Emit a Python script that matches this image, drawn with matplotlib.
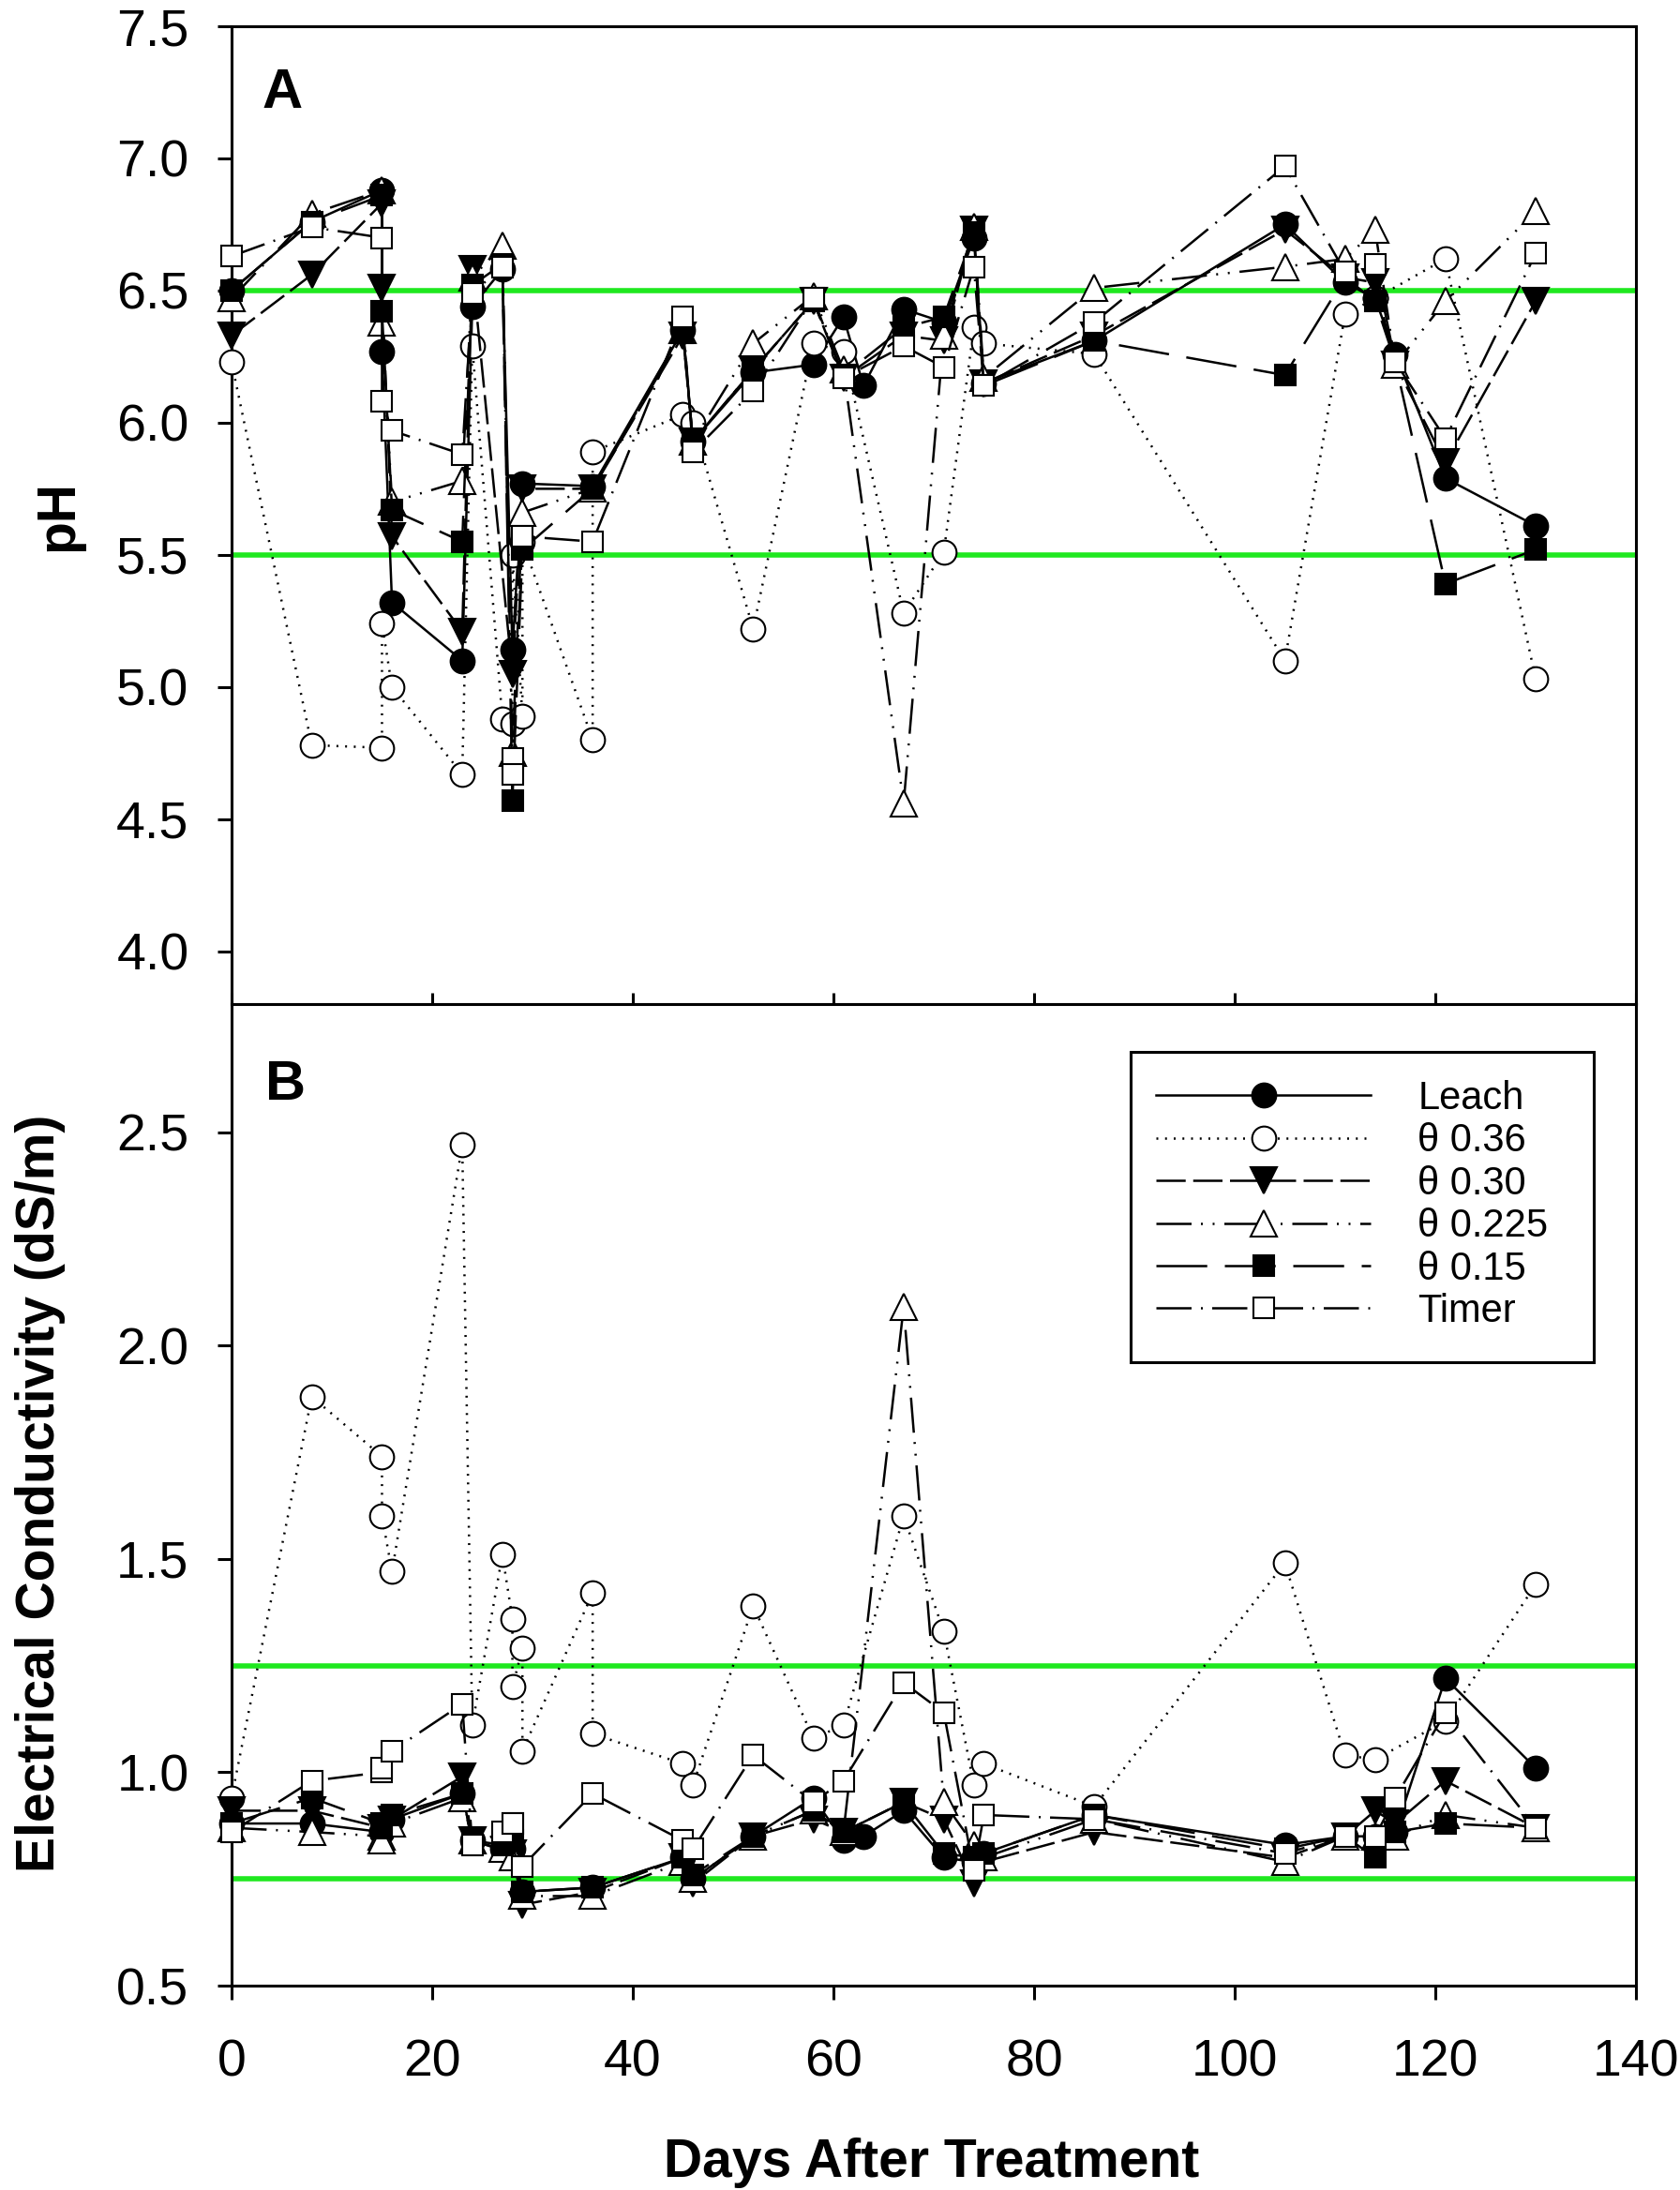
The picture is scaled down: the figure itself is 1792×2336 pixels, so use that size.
import matplotlib
matplotlib.use('Agg')
import matplotlib.pyplot as plt
import matplotlib.ticker as ticker
from matplotlib.patches import Rectangle

# Sampling days per treatment (some days were sampled twice)
leach_days = [0, 8, 15, 15, 16, 23, 24, 27, 28, 29, 36, 45, 46, 52, 58, 61, 63, 67, 71, 74, 75, 86, 105, 111, 114, 116, 121, 130]
leach_ph = [6.50, 6.76, 6.88, 6.27, 5.32, 5.10, 6.44, 6.58, 5.14, 5.77, 5.76, 6.35, 5.93, 6.19, 6.22, 6.40, 6.14, 6.43, 6.38, 6.70, 6.15, 6.31, 6.75, 6.53, 6.47, 6.26, 5.79, 5.61]
leach_ec = [0.88, 0.88, 0.86, 0.86, 0.89, 0.95, 0.84, 0.82, 0.82, 0.72, 0.73, 0.80, 0.75, 0.85, 0.94, 0.84, 0.85, 0.91, 0.80, 0.79, 0.81, 0.90, 0.83, 0.85, 0.85, 0.86, 1.22, 1.01]

t36_days = [0, 8, 15, 15, 16, 23, 24, 27, 28, 28, 29, 29, 36, 36, 45, 46, 52, 58, 61, 67, 71, 74, 75, 86, 105, 111, 114, 121, 130]
t36_ph = [6.23, 4.78, 4.77, 5.24, 5.00, 4.67, 6.29, 4.88, 4.86, 5.50, 4.89, 5.55, 4.80, 5.89, 6.03, 6.00, 5.22, 6.30, 6.27, 5.28, 5.51, 6.36, 6.30, 6.26, 5.10, 6.41, 6.47, 6.62, 5.03]
t36_ec = [0.94, 1.88, 1.74, 1.60, 1.47, 2.47, 1.11, 1.51, 1.36, 1.20, 1.29, 1.05, 1.42, 1.09, 1.02, 0.97, 1.39, 1.08, 1.11, 1.60, 1.33, 0.97, 1.02, 0.92, 1.49, 1.04, 1.03, 1.12, 1.44]

t30_days = [0, 8, 15, 15, 16, 23, 24, 28, 29, 36, 45, 46, 52, 58, 61, 67, 71, 74, 75, 86, 105, 111, 114, 116, 121, 130]
t30_ph = [6.33, 6.56, 6.83, 6.51, 5.57, 5.21, 6.58, 5.05, 5.75, 5.75, 6.33, 5.93, 6.20, 6.46, 6.17, 6.33, 6.31, 6.73, 6.15, 6.33, 6.73, 6.55, 6.53, 6.22, 5.85, 6.46]
t30_ec = [0.91, 0.91, 0.87, 0.86, 0.89, 0.99, 0.84, 0.81, 0.69, 0.72, 0.80, 0.74, 0.85, 0.89, 0.86, 0.93, 0.89, 0.74, 0.79, 0.86, 0.80, 0.85, 0.91, 0.88, 0.98, 0.87]

t225_days = [0, 8, 15, 15, 16, 23, 24, 27, 28, 29, 36, 45, 46, 52, 58, 61, 67, 71, 74, 75, 86, 105, 111, 114, 116, 121, 130]
t225_ph = [6.47, 6.79, 6.88, 6.38, 5.70, 5.78, 6.55, 6.67, 4.75, 5.66, 5.75, 6.35, 5.93, 6.30, 6.48, 6.20, 4.56, 6.33, 6.74, 6.17, 6.51, 6.59, 6.62, 6.73, 6.22, 6.46, 6.80]
t225_ec = [0.87, 0.86, 0.85, 0.84, 0.88, 0.94, 0.84, 0.82, 0.80, 0.71, 0.71, 0.79, 0.75, 0.85, 0.91, 0.86, 2.09, 0.93, 0.83, 0.80, 0.89, 0.79, 0.85, 0.85, 0.85, 0.90, 0.87]

t15_days = [0, 8, 15, 15, 16, 23, 24, 27, 28, 29, 36, 45, 46, 52, 58, 61, 67, 71, 74, 75, 86, 105, 111, 114, 116, 121, 130]
t15_ph = [6.50, 6.76, 6.86, 6.42, 5.67, 5.55, 6.52, 6.60, 4.57, 5.52, 5.75, 6.34, 5.93, 6.20, 6.46, 6.18, 6.36, 6.40, 6.72, 6.14, 6.31, 6.18, 6.55, 6.46, 6.23, 5.39, 5.52]
t15_ec = [0.88, 0.94, 0.88, 0.87, 0.90, 0.95, 0.84, 0.83, 0.84, 0.72, 0.73, 0.80, 0.76, 0.85, 0.91, 0.86, 0.93, 0.81, 0.80, 0.81, 0.90, 0.82, 0.85, 0.80, 0.86, 0.88, 0.87]

timer_days = [0, 8, 15, 15, 16, 23, 24, 27, 28, 28, 29, 36, 45, 46, 52, 58, 61, 67, 71, 74, 75, 86, 105, 111, 114, 116, 121, 130]
timer_ph = [6.63, 6.74, 6.70, 6.08, 5.97, 5.88, 6.49, 6.59, 4.73, 4.67, 5.57, 5.55, 6.40, 5.89, 6.12, 6.47, 6.17, 6.29, 6.21, 6.59, 6.14, 6.38, 6.97, 6.57, 6.60, 6.23, 5.94, 6.64]
timer_ec = [0.86, 0.98, 1.00, 1.01, 1.05, 1.16, 0.83, 0.86, 0.88, 0.88, 0.78, 0.95, 0.84, 0.82, 1.04, 0.93, 0.98, 1.21, 1.14, 0.77, 0.90, 0.89, 0.81, 0.85, 0.85, 0.94, 1.14, 0.87]

labels = ['Leach', 'θ 0.36', 'θ 0.30', 'θ 0.225', 'θ 0.15', 'Timer']

ph_bounds = [5.5, 6.5]
ec_bounds = [0.75, 1.25]
ph_ticks = [4.0, 4.5, 5.0, 5.5, 6.0, 6.5, 7.0, 7.5]
ec_ticks = [0.5, 1.0, 1.5, 2.0, 2.5]
day_ticks = [0, 20, 40, 60, 80, 100, 120, 140]

GREEN = '#1fe81f'
LW = 1.8
SPINE = 2.2

# marker, face colour, marker size, line style (dash units scale with LW)
styles = [
    ('o', 'black', 18.5, '-'),
    ('o', 'white', 18.5, (0, (0.8, 2.9))),
    ('v', 'black', 20, (0, (12.5, 3.2))),
    ('^', 'white', 20, (0, (15, 4, 0.8, 4.2, 0.8, 4.2))),
    ('s', 'black', 16, (0, (21.7, 7.5))),
    ('s', 'white', 16, (0, (15, 4, 0.8, 4))),
]


def style_axis(axis):
    for spine in axis.spines.values():
        spine.set_linewidth(SPINE)
    axis.tick_params(axis='y', direction='out', length=10.8, width=SPINE, labelsize=40, pad=22)
    axis.yaxis.set_major_formatter(ticker.FormatStrFormatter('%.1f'))
    axis.set_xlim(0, 140)
    axis.set_xticks(day_ticks)


def draw_series(axis, days_list, values_list):
    lines = []
    for days, values, style, label in zip(days_list, values_list, styles, labels):
        marker, face, size, ls = style
        line, = axis.plot(days, values, color='black', linewidth=LW, linestyle=ls,
                          marker=marker, markersize=size, markerfacecolor=face,
                          markeredgecolor='black', markeredgewidth=1.5,
                          label=label, clip_on=False, zorder=3)
        lines.append(line)
    return lines


def run():
    plt.rcParams['font.family'] = ['Liberation Sans', 'DejaVu Sans']

    fig = plt.figure(figsize=(17.92, 23.36), dpi=100)
    ax_ph = fig.add_axes([0.1378, 0.5415, 0.836, 0.4465])
    ax_ec = fig.add_axes([0.1378, 0.0933, 0.836, 0.4482])

    all_days = [leach_days, t36_days, t30_days, t225_days, t15_days, timer_days]

    # Panel A: pH
    for level in ph_bounds:
        ax_ph.axhline(level, color=GREEN, linewidth=4.0, zorder=1.5)
    draw_series(ax_ph, all_days, [leach_ph, t36_ph, t30_ph, t225_ph, t15_ph, timer_ph])
    style_axis(ax_ph)
    ax_ph.set_ylim(3.8, 7.5)
    ax_ph.set_yticks(ph_ticks)
    ax_ph.tick_params(axis='x', direction='in', length=8.6, width=SPINE, labelbottom=False)
    ax_ph.text(0.022, 0.9166, 'A', transform=ax_ph.transAxes, fontsize=43,
               fontweight='bold', va='baseline', ha='left')

    # Panel B: electrical conductivity
    for level in ec_bounds:
        ax_ec.axhline(level, color=GREEN, linewidth=4.0, zorder=1.5)
    lines = draw_series(ax_ec, all_days, [leach_ec, t36_ec, t30_ec, t225_ec, t15_ec, timer_ec])
    style_axis(ax_ec)
    ax_ec.set_ylim(0.5, 2.8)
    ax_ec.set_yticks(ec_ticks)
    ax_ec.tick_params(axis='x', direction='out', length=10.8, width=SPINE, labelsize=40, pad=30)
    ax_ec.text(0.024, 0.9026, 'B', transform=ax_ec.transAxes, fontsize=43,
               fontweight='bold', va='baseline', ha='left')

    # legend box drawn separately so its margins can match the original
    ax_ec.add_patch(Rectangle((0.6405, 0.6355), 0.3297, 0.3163, transform=ax_ec.transAxes,
                              facecolor='white', edgecolor='black', linewidth=SPINE, zorder=4))
    legend = ax_ec.legend(handles=lines, loc='upper left', bbox_to_anchor=(0.6584, 0.9227),
                          borderaxespad=0, borderpad=0, fontsize=30, handlelength=5.5,
                          handletextpad=1.2, labelspacing=0.13, numpoints=1, frameon=False)
    legend.set_zorder(5)

    fig.text(0.0346, 0.7646, 'pH', rotation=90, ha='center', va='center',
             fontsize=41, fontweight='bold')
    fig.text(0.024, 0.318, 'Electrical Conductivity (dS/m)', rotation=90, ha='center',
             va='center', fontsize=41, fontweight='bold')
    fig.text(0.5547, 0.0062, 'Days After Treatment', ha='center', va='baseline',
             fontsize=41, fontweight='bold')

    fig.savefig('out.png', dpi=100)


if __name__ == '__main__':
    run()
